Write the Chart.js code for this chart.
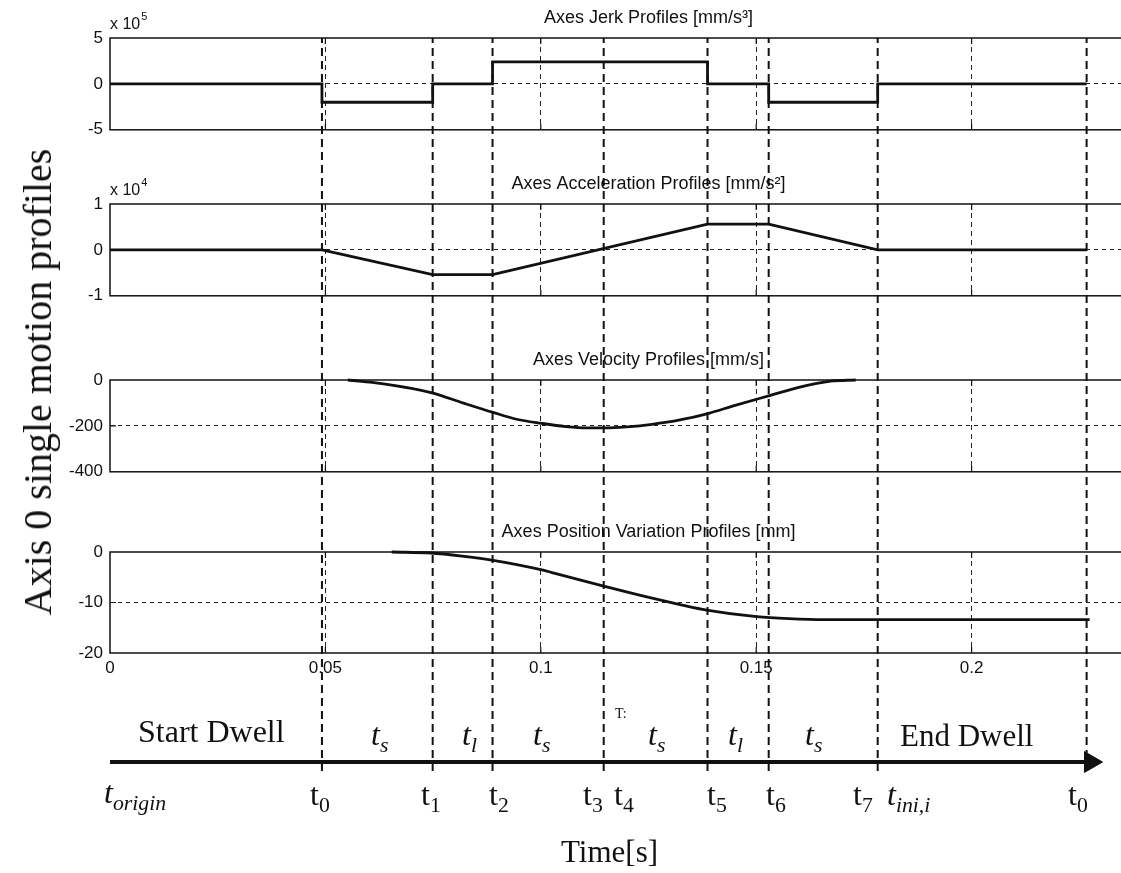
<!DOCTYPE html>
<html>
<head>
<meta charset="utf-8">
<title>Axis 0 single motion profiles</title>
<script src="https://cdn.jsdelivr.net/npm/chart.js@4.4.1/dist/chart.umd.min.js"></script>
<style>
  html, body { margin: 0; padding: 0; background: #fff; overflow: hidden; width: 1121px; height: 873px; }
  #page { position: relative; width: 1121px; height: 873px; overflow: hidden; }
  #page canvas { position: absolute; left: 0; }
  .lbl { position: absolute; font-family: "Liberation Serif", "Times New Roman", serif; color: #111;
         white-space: nowrap; line-height: 1; }
  .lbl sub { font-size: 0.68em; vertical-align: -0.3em; line-height: 0; }
  #ylabel { position: absolute; font-family: "Liberation Serif", "Times New Roman", serif; color: #111;
            white-space: nowrap; line-height: 1; transform: translate(-50%, -50%) rotate(-90deg); }
</style>
</head>
<body>
<div id="page">
  <canvas id="jerk"></canvas>
  <canvas id="acc"></canvas>
  <canvas id="vel"></canvas>
  <canvas id="pos"></canvas>
  <canvas id="overlay"></canvas>
  <div id="ylabel">Axis 0 single motion profiles</div>
</div>
<script>
// ---------------- data ----------------
const timeTicks = [0, 0.05, 0.1, 0.15, 0.2];

// phase boundaries t0..t7 and the start of the next cycle
const phaseTimes = [0.0492, 0.0749, 0.0888, 0.1146, 0.1387, 0.1529, 0.1782, 0.2267];
const timelineEnd = 0.2276;

// jerk [mm/s^3], each value holds until the next time
const jerkTime  = [0, 0.0492, 0.0749, 0.0888, 0.1387, 0.1529, 0.1782, 0.2267];
const jerkValue = [0, -2.0e5, 0, 2.4e5, 0, -2.0e5, 0, 0];

// acceleration [mm/s^2]
const accTime  = [0, 0.0492, 0.0749, 0.0888, 0.1387, 0.1529, 0.1782, 0.2267];
const accValue = [0, 0, -5.4e3, -5.4e3, 5.6e3, 5.6e3, 0, 0];

// velocity [mm/s]
const velTime  = [0.0552, 0.0631, 0.0745, 0.0821, 0.0889, 0.0944, 0.1002, 0.1058, 0.1107, 0.1148,
                  0.1200, 0.1258, 0.1323, 0.1390, 0.1445, 0.1531, 0.1599, 0.1673, 0.1731];
const velValue = [0, -16, -55, -101, -141, -171, -189, -203, -209, -209,
                  -204, -193, -174, -145, -114, -68, -32, -5, 0];

// position variation [mm]
const posTime  = [0.0654, 0.0745, 0.0817, 0.0886, 0.1000, 0.1044, 0.1148, 0.1251, 0.1323, 0.1385,
                  0.1501, 0.1575, 0.1659, 0.2274];
const posValue = [0, -0.2, -0.8, -1.6, -3.5, -4.5, -6.8, -9.0, -10.4, -11.5,
                  -12.8, -13.2, -13.4, -13.4];

// ---------------- layout ----------------
const CANVAS_W = 1200;          // wider than the window; the right edge of each box is cut off
const AXIS_W = 110;             // width reserved for the y tick labels
const PAD_RIGHT = 13;
const TITLE_SPACE = 40;
const X_MAX = 0.25;
const SANS = '"Liberation Sans", Arial, Helvetica, sans-serif';
const INK = '#111';

const panels = [
  { id: 'jerk', top: 38,  h: 101, title: 'Axes Jerk Profiles [mm/s³]', exp: 5,
    min: -5e5, max: 5e5, step: 5e5, scale: 1e5, t: jerkTime, v: jerkValue, stepped: 'before' },
  { id: 'acc',  top: 204, h: 101, title: 'Axes Acceleration Profiles [mm/s²]', exp: 4,
    min: -1e4, max: 1e4, step: 1e4, scale: 1e4, t: accTime, v: accValue },
  { id: 'vel',  top: 380, h: 101, title: 'Axes Velocity Profiles [mm/s]',
    min: -400, max: 0, step: 200, scale: 1, t: velTime, v: velValue, smooth: true },
  { id: 'pos',  top: 552, h: 101, title: 'Axes Position Variation Profiles [mm]',
    min: -20, max: 0, step: 10, scale: 1, t: posTime, v: posValue, smooth: true, xLabels: true }
];

// box, inward tick marks and the "x 10^n" multiplier of a panel
const panelFrame = {
  id: 'panelFrame',
  afterDatasetsDraw(chart, args, opts) {
    const { ctx, chartArea: a, scales: { x, y } } = chart;
    ctx.save();
    ctx.setLineDash([]);
    ctx.strokeStyle = INK;
    ctx.lineWidth = 1.5;
    ctx.strokeRect(a.left, a.top, a.width, a.height);
    ctx.lineWidth = 1.2;
    ctx.beginPath();
    x.ticks.forEach(t => {
      const px = x.getPixelForValue(t.value);
      if (px <= a.left + 1 || px >= a.right - 1) return;
      ctx.moveTo(px, a.top); ctx.lineTo(px, a.top + 6);
      ctx.moveTo(px, a.bottom); ctx.lineTo(px, a.bottom - 6);
    });
    y.ticks.forEach(t => {
      const py = y.getPixelForValue(t.value);
      if (py <= a.top + 1 || py >= a.bottom - 1) return;
      ctx.moveTo(a.left, py); ctx.lineTo(a.left + 6, py);
    });
    ctx.stroke();
    if (opts.exponent) {
      ctx.fillStyle = INK;
      ctx.textAlign = 'left';
      ctx.textBaseline = 'alphabetic';
      ctx.font = '16px ' + SANS;
      const bx = a.left, by = a.top - 9;
      ctx.fillText('x 10', bx, by);
      const w = ctx.measureText('x 10').width;
      ctx.font = '11px ' + SANS;
      ctx.fillText(String(opts.exponent), bx + w + 1, by - 9);
    }
    ctx.restore();
  }
};

panels.forEach(p => {
  const bottomSpace = p.xLabels ? 30 : 8;
  const el = document.getElementById(p.id);
  const H = TITLE_SPACE + p.h + bottomSpace;
  el.width = CANVAS_W; el.height = H;
  el.style.width = CANVAS_W + 'px'; el.style.height = H + 'px';
  el.style.top = (p.top - TITLE_SPACE) + 'px';

  new Chart(el, {
    type: 'line',
    data: {
      datasets: [{
        data: p.t.map((t, i) => ({ x: t, y: p.v[i] })),
        borderColor: INK,
        borderWidth: 2.8,
        pointRadius: 0,
        stepped: p.stepped || false,
        cubicInterpolationMode: p.smooth ? 'monotone' : 'default',
        clip: 4
      }]
    },
    options: {
      responsive: false,
      animation: false,
      devicePixelRatio: 1,
      layout: { padding: { left: 0, right: PAD_RIGHT, top: 0, bottom: p.xLabels ? 4 : bottomSpace } },
      plugins: {
        legend: { display: false },
        tooltip: { enabled: false },
        title: {
          display: true,
          text: p.title,
          fullSize: false,
          color: INK,
          font: { family: SANS, size: 18, weight: 'normal', lineHeight: 1 },
          padding: { top: 11, bottom: 11 }
        },
        panelFrame: { exponent: p.exp }
      },
      scales: {
        x: {
          type: 'linear',
          min: 0, max: X_MAX,
          afterBuildTicks: s => { s.ticks = timeTicks.map(v => ({ value: v })); },
          afterFit: s => { s.height = p.xLabels ? 26 : 0; },
          ticks: {
            display: !!p.xLabels,
            color: INK,
            font: { family: SANS, size: 17 },
            padding: 5,
            maxRotation: 0,
            autoSkip: false,
            callback: v => String(v)
          },
          grid: {
            drawTicks: false,
            lineWidth: 1,
            color: c => (c.tick && c.tick.value > 0) ? '#222' : 'rgba(0,0,0,0)'
          },
          border: { display: false, dash: [5, 4] }
        },
        y: {
          type: 'linear',
          min: p.min, max: p.max,
          afterFit: s => { s.width = AXIS_W; },
          ticks: {
            stepSize: p.step,
            color: INK,
            font: { family: SANS, size: 17 },
            padding: 7,
            callback: v => String(Math.round(v / p.scale))
          },
          grid: {
            drawTicks: false,
            lineWidth: 1,
            color: c => (c.tick && c.tick.value > p.min && c.tick.value < p.max) ? '#222' : 'rgba(0,0,0,0)'
          },
          border: { display: false, dash: [4, 4] }
        }
      }
    },
    plugins: [panelFrame]
  });
});

// ---------------- overlay: phase markers and the time line ----------------
const OV_TOP = 38, OV_BOTTOM = 771, TIMELINE_Y = 762;
const timelineLevel = (OV_BOTTOM - TIMELINE_Y) / (OV_BOTTOM - OV_TOP);
(function () {
  const el = document.getElementById('overlay');
  el.width = CANVAS_W; el.height = 873;
  el.style.width = CANVAS_W + 'px'; el.style.height = '873px'; el.style.top = '0px';
  const markers = phaseTimes.map(t => ({
    data: [{ x: t, y: 0 }, { x: t, y: 1 }],
    borderColor: INK, borderWidth: 2, borderDash: [8, 5], pointRadius: 0, clip: false
  }));
  const arrow = {
    data: [{ x: 0, y: timelineLevel }, { x: timelineEnd, y: timelineLevel }],
    borderColor: INK, borderWidth: 4,
    pointRadius: [0, 12], pointStyle: 'triangle', pointRotation: 90,
    pointBackgroundColor: INK, pointBorderColor: INK, pointBorderWidth: 1, clip: false
  };
  new Chart(el, {
    type: 'line',
    data: { datasets: [...markers, arrow] },
    options: {
      responsive: false, animation: false, devicePixelRatio: 1,
      layout: { padding: { left: AXIS_W, right: PAD_RIGHT, top: OV_TOP, bottom: 873 - OV_BOTTOM } },
      plugins: { legend: { display: false }, tooltip: { enabled: false }, title: { display: false } },
      scales: {
        x: { type: 'linear', min: 0, max: X_MAX, display: false },
        y: { type: 'linear', min: 0, max: 1, display: false }
      }
    }
  });
})();

// ---------------- phase annotations ----------------
const annotations = [
  { html: 'Start Dwell', x: 138, base: 742, size: 32 },
  { html: '<i>t</i><sub><i>s</i></sub>', x: 371, base: 745, size: 32 },
  { html: '<i>t</i><sub><i>l</i></sub>', x: 462, base: 745, size: 32 },
  { html: '<i>t</i><sub><i>s</i></sub>', x: 533, base: 745, size: 32 },
  { html: 'T:', x: 615, base: 719, size: 14 },
  { html: '<i>t</i><sub><i>s</i></sub>', x: 648, base: 745, size: 32 },
  { html: '<i>t</i><sub><i>l</i></sub>', x: 728, base: 745, size: 32 },
  { html: '<i>t</i><sub><i>s</i></sub>', x: 805, base: 745, size: 32 },
  { html: 'End Dwell', x: 900, base: 746, size: 31 },
  { html: '<i>t</i><sub><i>origin</i></sub>', x: 104, base: 803, size: 32 },
  { html: 't<sub>0</sub>', x: 310, base: 805, size: 32 },
  { html: 't<sub>1</sub>', x: 421, base: 805, size: 32 },
  { html: 't<sub>2</sub>', x: 489, base: 805, size: 32 },
  { html: 't<sub>3</sub>', x: 583, base: 805, size: 32 },
  { html: 't<sub>4</sub>', x: 614, base: 805, size: 32 },
  { html: 't<sub>5</sub>', x: 707, base: 805, size: 32 },
  { html: 't<sub>6</sub>', x: 766, base: 805, size: 32 },
  { html: 't<sub>7</sub>', x: 853, base: 805, size: 32 },
  { html: '<i>t</i><sub><i>ini,i</i></sub>', x: 887, base: 805, size: 32 },
  { html: 't<sub>0</sub>', x: 1068, base: 805, size: 32 },
  { html: 'Time[s]', x: 561, base: 862, size: 31 }
];
const page = document.getElementById('page');
annotations.forEach(a => {
  const d = document.createElement('div');
  d.className = 'lbl';
  d.innerHTML = a.html;
  d.style.fontSize = a.size + 'px';
  d.style.left = a.x + 'px';
  d.style.top = (a.base - 0.84 * a.size) + 'px';
  page.appendChild(d);
});
const yl = document.getElementById('ylabel');
yl.style.fontSize = '40px';
yl.style.left = '38px';
yl.style.top = '382px';
</script>
</body>
</html>
